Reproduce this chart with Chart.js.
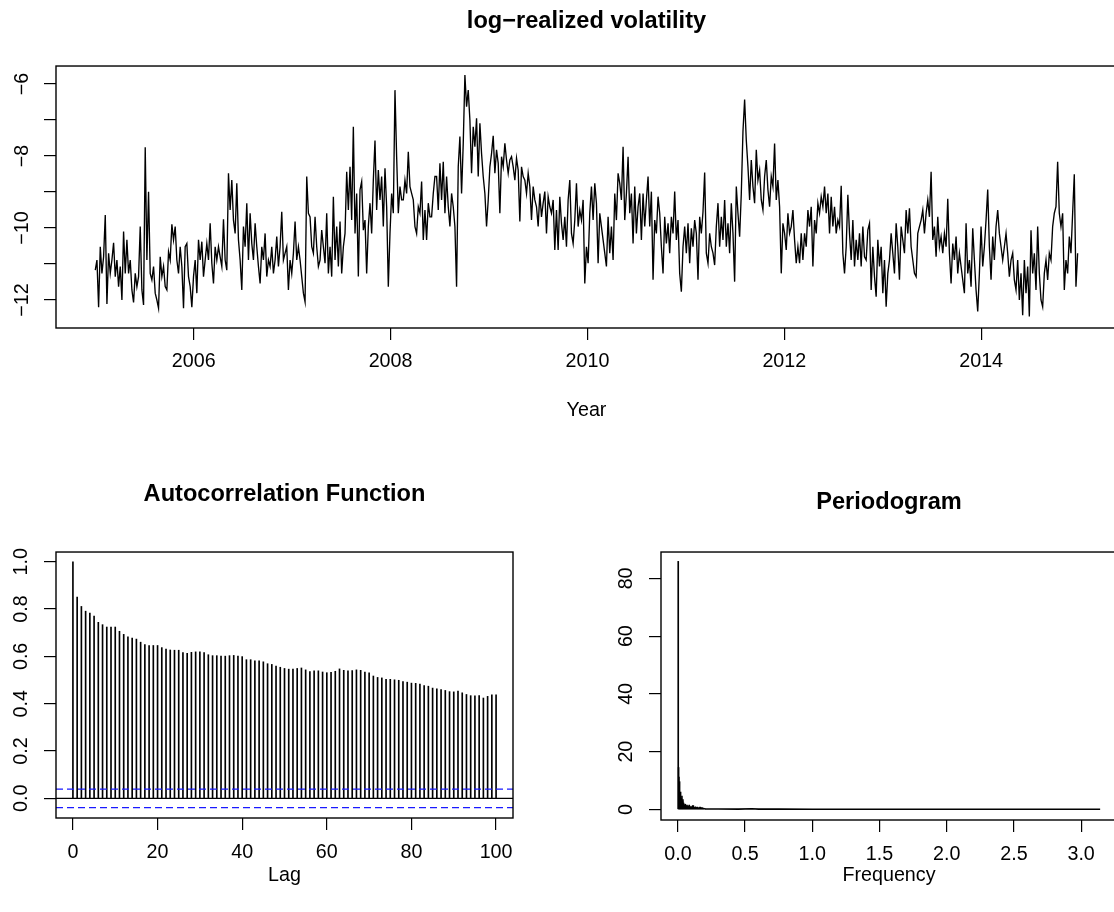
<!DOCTYPE html>
<html>
<head>
<meta charset="utf-8">
<title>log-realized volatility</title>
<script src="https://cdn.jsdelivr.net/npm/chart.js@4/dist/chart.umd.min.js"></script>
<style>
  html, body { margin: 0; padding: 0; background: #fff; width: 1114px; height: 912px; overflow: hidden; }
  .panel { position: absolute; }
  canvas { display: block; }
</style>
</head>
<body>
<div class="panel" style="left:0;top:0;"><canvas id="rv" width="1130" height="440"></canvas></div>
<div class="panel" style="left:0;top:460px;"><canvas id="acf" width="540" height="452"></canvas></div>
<div class="panel" style="left:600px;top:460px;"><canvas id="pgram" width="530" height="452"></canvas></div>
<script>
// ---- log-realized volatility, sampled evenly from start to end ----
const seriesStart = 2005.0;
const seriesEnd = 2014.98;
const logRV = [
  -11.17,-10.89,-12.2,-10.52,-11.26,-10.8,-9.64,-12.11,-10.7,-11.26,
  -10.89,-10.41,-11.35,-10.89,-11.63,-11.07,-12.0,-10.1,-11.26,-10.33,
  -11.26,-10.89,-11.72,-12.07,-11.26,-11.63,-11.35,-9.96,-11.72,-12.14,
  -7.76,-10.89,-8.99,-11.26,-11.44,-11.07,-11.81,-12.0,-12.23,-10.8,
  -11.35,-11.07,-11.63,-11.72,-10.66,-10.89,-9.9,-10.33,-9.96,-10.89,
  -11.26,-10.52,-11.07,-12.23,-10.52,-10.43,-11.35,-11.63,-12.2,-11.35,
  -10.89,-11.81,-10.33,-10.89,-10.38,-11.35,-10.89,-10.43,-10.89,-9.87,
  -10.98,-11.54,-10.52,-10.89,-10.52,-10.8,-11.07,-9.76,-10.89,-11.17,
  -8.48,-9.5,-8.67,-9.78,-10.15,-8.76,-10.33,-10.89,-11.72,-9.96,
  -10.52,-9.31,-10.89,-9.59,-10.43,-10.89,-9.87,-10.52,-11.07,-11.54,
  -10.52,-10.89,-10.15,-11.35,-10.89,-11.07,-10.52,-11.26,-10.89,-10.24,
  -11.07,-10.52,-9.55,-10.89,-10.7,-10.52,-11.72,-10.89,-11.26,-10.7,
  -9.82,-10.89,-10.52,-10.89,-11.35,-11.81,-12.05,-8.57,-9.59,-9.69,
  -10.52,-10.7,-9.69,-10.52,-11.07,-10.89,
  -10.06,-10.52,-10.98,-9.59,-11.26,-10.52,-11.35,-9.13,-10.89,-9.96,
  -11.07,-9.82,-11.26,-10.52,-10.15,-8.44,-9.5,-8.3,-9.78,-7.19,
  -10.15,-9.04,-11.35,-8.94,-8.71,-10.06,-9.78,-11.26,-9.96,-9.31,
  -10.15,-8.67,-7.57,-9.5,-8.39,-9.22,-8.57,-9.96,-8.34,-9.41,
  -11.63,-10.15,-9.04,-9.59,-6.17,-8.02,-9.59,-8.85,-9.22,-9.22,
  -8.67,-9.04,-7.88,-8.85,-9.04,-9.22,-9.96,-10.15,-9.41,-9.59,
  -8.71,-10.33,-9.5,-10.33,-9.31,-9.69,-9.69,-9.04,-8.57,-8.57,
  -9.5,-8.2,-9.22,-8.16,-9.59,-8.57,-9.41,-9.96,-9.04,-9.41,
  -9.96,-11.63,-8.3,-7.46,-9.04,-7.65,-5.75,-6.63,-6.17,-7.0,
  -8.48,-7.19,-7.74,-6.95,-8.57,-7.09,-7.93,-8.57,-9.04,-9.96,
  -9.22,-8.3,-7.93,-7.44,-8.48,-7.83,-8.2,-9.59,-8.02,-8.3,
  -7.65,-8.11,-8.48,-8.11,-8.02,-8.3,-8.67,-8.06,-8.39,-9.82,
  -8.3,-8.57,-8.67,-9.04,-8.48,-8.85,-9.78,-8.85,-9.22,-9.41,
  -9.96,-9.04,-9.69,-9.31,-8.99,-10.15,-9.13,-9.41,-9.59,-9.22,
  -10.61,-9.5,-10.61,-9.13,-9.87,-10.33,-9.69,-10.52,-9.22,-8.67,
  -10.15,-10.43,-9.78,-8.76,-9.96,-9.5,
  -9.78,-9.22,-11.54,-10.52,-10.98,-9.59,-8.85,-9.78,-8.76,-9.31,
  -10.98,-9.59,-9.96,-10.33,-10.7,-11.07,-9.69,-10.7,-9.96,-10.89,
  -9.04,-9.78,-8.48,-8.76,-9.22,-7.74,-9.78,-9.04,-8.02,-9.59,
  -9.04,-10.43,-8.85,-10.15,-9.41,-9.04,-10.33,-9.04,-9.96,-9.22,
  -8.57,-9.96,-8.99,-11.44,-9.78,-10.15,-9.13,-9.59,-10.52,-11.26,
  -9.69,-10.43,-9.87,-10.7,-9.69,-10.15,-8.99,-10.33,-9.78,-11.26,
  -11.77,-10.52,-9.96,-10.7,-9.87,-10.98,-10.01,-10.52,-9.78,-10.15,
  -11.44,-9.69,-10.15,-9.55,-8.46,-10.7,-10.98,-10.15,-10.52,-10.7,
  -11.03,-9.96,-9.31,-10.52,-9.69,-10.33,-9.22,-10.52,-9.87,-10.7,
  -9.31,-10.15,-11.49,-8.85,-9.59,-10.24,-9.04,-7.32,-6.43,-7.56,
  -8.3,-9.22,-8.11,-8.85,-9.31,-7.83,-8.67,-8.39,-9.22,-9.5,
  -8.57,-8.11,-8.94,-9.41,-8.57,-8.85,-7.65,-9.22,-8.67,-9.41,
  -11.26,-9.87,-10.15,-10.61,-9.59,-10.15,-9.96,-9.5,-10.33,-10.98,
  -10.52,-10.98,-10.15,-10.89,-10.15,-10.52,-9.5,-9.96,-9.41,-11.07,
  -9.78,-10.15,-9.31,-9.59,-9.13,-9.41,-8.85,-9.59,-9.04,-10.15,
  -9.13,-9.96,-9.41,-10.15,-9.78,-9.96,
  -8.83,-10.7,-11.26,-10.52,-9.08,-10.15,-10.89,-9.78,-11.07,-10.33,
  -10.89,-10.15,-11.07,-9.96,-10.8,-10.89,-10.06,-9.87,-11.72,-10.52,
  -11.35,-11.91,-10.33,-11.07,-10.52,-11.81,-10.89,-12.19,-11.26,-10.89,
  -10.15,-10.7,-11.26,-9.87,-10.52,-11.44,-9.96,-10.33,-10.7,-9.5,
  -10.15,-9.45,-10.52,-10.89,-11.26,-11.35,-10.15,-9.96,-9.78,-9.5,
  -10.15,-9.59,-9.22,-9.69,-8.44,-10.33,-9.96,-10.8,-9.69,-10.52,
  -10.24,-10.7,-10.15,-10.52,-9.19,-10.7,-11.54,-10.43,-10.89,-10.24,
  -11.26,-10.7,-11.07,-11.44,-11.81,-9.87,-11.26,-10.89,-11.63,-10.01,
  -10.89,-11.72,-12.32,-11.26,-9.96,-11.07,-10.52,-9.78,-8.93,-10.52,
  -11.44,-10.24,-10.89,-9.96,-9.5,-10.15,-10.52,-10.89,-10.52,-10.15,
  -10.7,-11.35,-10.89,-10.7,-11.44,-11.72,-10.89,-12.0,-11.26,-12.42,
  -10.89,-11.81,-11.07,-12.46,-10.06,-11.26,-10.7,-11.72,-9.96,-11.26,
  -12.0,-12.19,-11.26,-10.89,-11.44,-10.7,-10.89,-9.96,-9.59,-9.41,
  -8.16,-9.59,-9.96,-9.59,-11.72,-10.89,-11.26,-10.24,-10.7,-9.59,
  -8.51,-11.63,-10.7
];
const yearTicks = [2006, 2008, 2010, 2012, 2014];
const rvTicks = [-12, -11, -10, -9, -8, -7, -6];
const rvTickLabels = { '-12': '\u221212', '-10': '\u221210', '-8': '\u22128', '-6': '\u22126' };

// ---- sample autocorrelation, lags 0..100 ----
const acfValues = [
  1.0, 0.851, 0.811, 0.791, 0.783, 0.770, 0.744, 0.734, 0.724, 0.724,
  0.724, 0.706, 0.693, 0.683, 0.677, 0.673, 0.660, 0.650, 0.646, 0.646,
  0.646, 0.637, 0.631, 0.627, 0.626, 0.626, 0.616, 0.613, 0.617, 0.619,
  0.619, 0.616, 0.607, 0.603, 0.603, 0.601, 0.601, 0.603, 0.604, 0.601,
  0.599, 0.586, 0.586, 0.581, 0.581, 0.577, 0.569, 0.566, 0.559, 0.554,
  0.549, 0.546, 0.546, 0.549, 0.551, 0.543, 0.536, 0.539, 0.539, 0.534,
  0.531, 0.533, 0.537, 0.547, 0.541, 0.539, 0.540, 0.543, 0.541, 0.534,
  0.530, 0.517, 0.511, 0.509, 0.503, 0.503, 0.501, 0.499, 0.494, 0.491,
  0.487, 0.486, 0.483, 0.477, 0.474, 0.466, 0.463, 0.460, 0.456, 0.451,
  0.450, 0.453, 0.446, 0.439, 0.434, 0.433, 0.434, 0.424, 0.431, 0.437,
  0.437
];
const acfBound = 0.039;
const lagTicks = [0, 20, 40, 60, 80, 100];
const acfTicks = [0, 0.2, 0.4, 0.6, 0.8, 1.0];

// ---- periodogram: Fourier frequencies 2*pi*k/n ----
const nObs = 2520;
const pgramLow = [
  85.9, 14.5, 11.2, 6.3, 9.6, 4.1, 3.2, 6.0, 2.5, 3.8,
  2.1, 4.6, 1.9, 2.7, 3.4, 1.4, 2.2, 1.1, 1.6, 0.9,
  1.3, 1.8, 0.8, 1.2, 0.7, 1.0, 1.5, 0.6, 0.9, 1.2,
  0.5, 0.8, 1.1, 1.5, 0.6, 0.9, 0.4, 0.7, 1.0, 0.5,
  0.8, 0.4, 0.9, 1.3, 0.5, 1.3, 0.6, 0.4, 0.7, 0.3,
  0.6, 0.9, 0.4, 0.5, 0.3, 0.7, 0.4, 0.8, 0.3, 0.5,
  0.2, 0.4, 0.6, 0.3, 0.5, 0.8, 0.3, 0.7, 0.2, 0.4,
  0.3, 0.6, 0.2, 0.3, 0.5, 0.2, 0.4, 0.2, 0.3, 0.2
];
const pgramTailFreq = [0.2, 0.3, 0.45, 0.55, 0.6, 0.75, 1.0, 1.5, 2.0, 2.5, 3.0, 3.1416];
const pgramTailVal  = [0.15, 0.12, 0.1, 0.25, 0.1, 0.08, 0.06, 0.05, 0.05, 0.04, 0.04, 0.04];
const freqTicks = [0, 0.5, 1.0, 1.5, 2.0, 2.5, 3.0];
const pgramTicks = [0, 20, 40, 60, 80];

// ---- shared styling ----
const FONT = '"Liberation Sans", Arial, Helvetica, sans-serif';
const LABEL_SIZE = 19.7;
const TITLE_SIZE = 23.6;
Chart.defaults.font.family = FONT;
Chart.defaults.font.size = LABEL_SIZE;
Chart.defaults.color = '#000';
Chart.defaults.animation = false;

// box around the plotting region
const frame = {
  id: 'frame',
  afterDatasetsDraw(chart) {
    const { ctx, chartArea: a } = chart;
    ctx.save();
    ctx.strokeStyle = '#000';
    ctx.lineWidth = 1.4;
    ctx.strokeRect(a.left, a.top, a.right - a.left, a.bottom - a.top);
    ctx.restore();
  }
};

// y tick labels written along the axis (rotated)
const sideLabels = {
  id: 'sideLabels',
  afterDraw(chart, args, opts) {
    const { ctx, chartArea: a, scales: { y } } = chart;
    ctx.save();
    ctx.fillStyle = '#000';
    ctx.font = LABEL_SIZE + 'px ' + FONT;
    ctx.textAlign = 'center';
    ctx.textBaseline = 'middle';
    opts.values.forEach(v => {
      const text = opts.format(v);
      if (!text) return;
      ctx.save();
      ctx.translate(a.left - opts.gap, y.getPixelForValue(v));
      ctx.rotate(-Math.PI / 2);
      ctx.fillText(text, 0, 0);
      ctx.restore();
    });
    ctx.restore();
  }
};

// zero line and +/- significance bounds of the ACF
const acfRefLines = {
  id: 'acfRefLines',
  afterDatasetsDraw(chart) {
    const { ctx, chartArea: a, scales: { y } } = chart;
    ctx.save();
    ctx.strokeStyle = '#000';
    ctx.lineWidth = 1.4;
    const y0 = y.getPixelForValue(0);
    ctx.beginPath(); ctx.moveTo(a.left, y0); ctx.lineTo(a.right, y0); ctx.stroke();
    ctx.strokeStyle = '#1a1aff';
    ctx.lineWidth = 1.3;
    ctx.setLineDash([7, 4]);
    [acfBound, -acfBound].forEach(b => {
      const py = y.getPixelForValue(b);
      ctx.beginPath(); ctx.moveTo(a.left, py); ctx.lineTo(a.right, py); ctx.stroke();
    });
    ctx.restore();
  }
};

function tickGrid() {
  return { display: true, drawOnChartArea: false, drawTicks: true, tickLength: 12, color: '#000', lineWidth: 1.2, offset: false };
}
function fixedTicks(values) {
  return scale => { scale.ticks = values.map(v => ({ value: v })); };
}
function titleOpts(text, top, bottom) {
  return { display: true, text, fullSize: false, color: '#000',
           font: { size: TITLE_SIZE, weight: 'bold', family: FONT },
           padding: { top, bottom } };
}

// ---- top panel: time series ----
const step = (seriesEnd - seriesStart) / (logRV.length - 1);
new Chart(document.getElementById('rv'), {
  type: 'line',
  data: {
    datasets: [{
      data: logRV.map((v, i) => ({ x: seriesStart + i * step, y: v })),
      borderColor: '#000', borderWidth: 1.35, pointRadius: 0, tension: 0, fill: false
    }]
  },
  options: {
    responsive: false,
    layout: { padding: { left: 0, right: 13, top: 0, bottom: 0 } },
    plugins: {
      legend: { display: false }, tooltip: { enabled: false },
      title: titleOpts('log\u2212realized volatility', 7.5, 30.2),
      sideLabels: { values: rvTicks, gap: 33, format: v => rvTickLabels[String(v)] || '' }
    },
    scales: {
      x: {
        type: 'linear', min: 2004.601, max: 2015.38,
        afterBuildTicks: fixedTicks(yearTicks),
        afterFit: s => { s.height = 112; },
        ticks: { padding: 10, autoSkip: false, maxRotation: 0, callback: v => String(v) },
        grid: tickGrid(), border: { display: false },
        title: { display: true, text: 'Year', font: { size: LABEL_SIZE }, padding: { top: 0, bottom: 17.2 } }
      },
      y: {
        type: 'linear', min: -12.778, max: -5.5,
        afterBuildTicks: fixedTicks(rvTicks),
        afterFit: s => { s.width = 56; },
        ticks: { display: false },
        grid: tickGrid(), border: { display: false }
      }
    }
  },
  plugins: [frame, sideLabels]
});

// ---- bottom left: autocorrelation function ----
new Chart(document.getElementById('acf'), {
  type: 'bar',
  data: {
    datasets: [{
      data: acfValues.map((v, lag) => ({ x: lag, y: v })),
      backgroundColor: '#000', borderWidth: 0, barThickness: 1, grouped: false
    }]
  },
  options: {
    responsive: false,
    layout: { padding: { left: 0, right: 27, top: 0, bottom: 0 } },
    plugins: {
      legend: { display: false }, tooltip: { enabled: false },
      title: titleOpts('Autocorrelation Function', 20.8, 42.9),
      sideLabels: { values: acfTicks, gap: 34, format: v => v.toFixed(1) }
    },
    scales: {
      x: {
        type: 'linear', min: -4, max: 104, offset: false,
        afterBuildTicks: fixedTicks(lagTicks),
        afterFit: s => { s.height = 94; },
        ticks: { padding: 11, autoSkip: false, maxRotation: 0, callback: v => String(v) },
        grid: tickGrid(), border: { display: false },
        title: { display: true, text: 'Lag', font: { size: LABEL_SIZE }, padding: { top: 0, bottom: 24.5 } }
      },
      y: {
        type: 'linear', min: -0.083, max: 1.041,
        afterBuildTicks: fixedTicks(acfTicks),
        afterFit: s => { s.width = 56; },
        ticks: { display: false },
        grid: tickGrid(), border: { display: false }
      }
    }
  },
  plugins: [acfRefLines, frame, sideLabels]
});

// ---- bottom right: periodogram ----
new Chart(document.getElementById('pgram'), {
  type: 'bar',
  data: {
    datasets: [{
      type: 'bar',
      data: pgramLow.map((v, i) => ({ x: 2 * Math.PI * (i + 1) / nObs, y: v })),
      backgroundColor: '#000', borderWidth: 0, barThickness: 1, grouped: false
    }, {
      type: 'line',
      data: pgramTailFreq.map((f, i) => ({ x: f, y: pgramTailVal[i] })),
      borderColor: '#000', borderWidth: 1.6, pointRadius: 0, tension: 0, fill: false
    }]
  },
  options: {
    responsive: false,
    layout: { padding: { left: 0, right: 13, top: 0, bottom: 0 } },
    plugins: {
      legend: { display: false }, tooltip: { enabled: false },
      title: titleOpts('Periodogram', 28.8, 34.9),
      sideLabels: { values: pgramTicks, gap: 34, format: v => String(v) }
    },
    scales: {
      x: {
        type: 'linear', min: -0.1257, max: 3.267, offset: false,
        afterBuildTicks: fixedTicks(freqTicks),
        afterFit: s => { s.height = 92; },
        ticks: { padding: 11, autoSkip: false, maxRotation: 0, callback: v => v.toFixed(1) },
        grid: tickGrid(), border: { display: false },
        title: { display: true, text: 'Frequency', font: { size: LABEL_SIZE }, padding: { top: 0, bottom: 24.5 } }
      },
      y: {
        type: 'linear', min: -3.67, max: 89.14,
        afterBuildTicks: fixedTicks(pgramTicks),
        afterFit: s => { s.width = 61; },
        ticks: { display: false },
        grid: tickGrid(), border: { display: false }
      }
    }
  },
  plugins: [frame, sideLabels]
});
</script>
</body>
</html>
